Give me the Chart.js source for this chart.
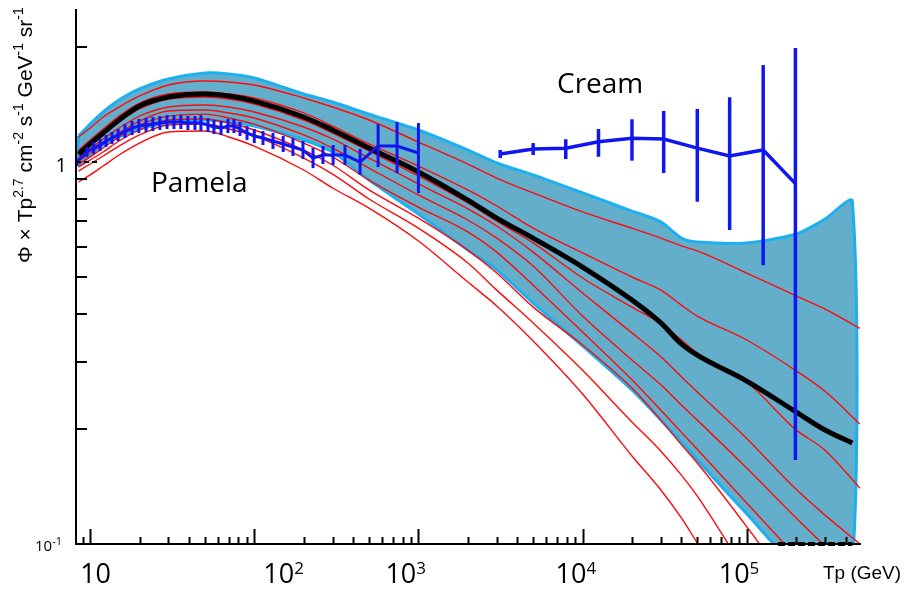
<!doctype html>
<html lang="en">
<head>
<meta charset="utf-8">
<title>Proton flux x Tp^2.7</title>
<style>
  html, body { margin: 0; padding: 0; background: #fff; }
  #wrap { width: 912px; height: 590px; }
</style>
</head>
<body>
<div id="wrap"><canvas id="flux" width="912" height="590"></canvas></div>
<script src="https://cdn.jsdelivr.net/npm/chart.js"></script>
<script>
// energy grids (GeV)
const modelE = [8.5, 10, 12, 15, 20, 30, 50, 70, 100, 200, 300, 500, 1000, 2000, 3000, 5000, 1e4, 2e4, 3e4, 4e4, 5e4, 1e5, 2e5, 3e5, 4.9e5];
const bandE  = [8.5, 10, 12, 15, 20, 30, 50, 70, 100, 200, 300, 500, 1000, 2000, 3000, 5000, 1e4, 2e4, 3e4, 4e4, 5e4, 1e5, 2e5, 3e5, 4.4e5];

// uncertainty band
const bandUpper = [1.170, 1.257, 1.352, 1.453, 1.553, 1.649, 1.710, 1.700, 1.659, 1.507, 1.436, 1.335, 1.213, 1.075, 0.994, 0.925, 0.830, 0.744, 0.697, 0.632, 0.617, 0.614, 0.648, 0.709, 0.790];
const bandLower = [0.982, 1.043, 1.108, 1.163, 1.220, 1.265, 1.288, 1.273, 1.242, 1.142, 1.062, 0.897, 0.731, 0.588, 0.522, 0.427, 0.330, 0.253, 0.211, 0.185, 0.166, 0.120, 0.088, 0.088, 0.088];

// best fit (thick black)
const bestFit = [1.049, 1.115, 1.191, 1.288, 1.402, 1.480, 1.507, 1.489, 1.444, 1.312, 1.213, 1.088, 0.942, 0.795, 0.713, 0.632, 0.531, 0.435, 0.379, 0.334, 0.312, 0.267, 0.2216, 0.1988, 0.1838];

// model curves (red), one list per curve on modelE
const redCurves = [
  [1.163, 1.227, 1.312, 1.393, 1.489, 1.591, 1.629, 1.620, 1.591, 1.471, 1.393, 1.288, 1.128, 0.988, 0.908, 0.830, 0.740, 0.671, 0.632, 0.603, 0.585, 0.512, 0.446, 0.412, 0.367],
  [1.075, 1.142, 1.220, 1.319, 1.427, 1.507, 1.525, 1.507, 1.471, 1.344, 1.242, 1.115, 0.976, 0.845, 0.767, 0.671, 0.578, 0.500, 0.462, 0.422, 0.395, 0.342, 0.284, 0.251, 0.206],
  [1.049, 1.108, 1.184, 1.273, 1.377, 1.462, 1.480, 1.462, 1.418, 1.288, 1.191, 1.069, 0.919, 0.781, 0.700, 0.614, 0.497, 0.417, 0.377, 0.342, 0.316, 0.2655, 0.199, 0.176, 0.140],
  [1.031, 1.082, 1.149, 1.227, 1.319, 1.393, 1.410, 1.393, 1.352, 1.235, 1.149, 1.024, 0.876, 0.754, 0.680, 0.581, 0.454, 0.357, 0.309, 0.274, 0.250, 0.189, 0.139, 0.119, 0.100],
  [1.006, 1.056, 1.115, 1.191, 1.280, 1.360, 1.368, 1.344, 1.304, 1.177, 1.088, 0.964, 0.820, 0.705, 0.632, 0.534, 0.395, 0.303, 0.261, 0.231, 0.211, 0.158, 0.117, 0.0988, 0.0805],
  [0.988, 1.031, 1.088, 1.163, 1.250, 1.319, 1.335, 1.304, 1.257, 1.121, 1.031, 0.897, 0.762, 0.656, 0.581, 0.476, 0.359, 0.269, 0.224, 0.196, 0.177, 0.128, 0.0925, 0.0758, 0.0596],
  [0.970, 1.012, 1.062, 1.135, 1.213, 1.288, 1.296, 1.265, 1.213, 1.075, 0.982, 0.845, 0.713, 0.588, 0.512, 0.417, 0.332, 0.256, 0.211, 0.182, 0.163, 0.111, 0.0735, 0.0561, 0.0390],
  [0.947, 0.988, 1.037, 1.101, 1.177, 1.250, 1.257, 1.220, 1.170, 1.024, 0.930, 0.800, 0.671, 0.544, 0.462, 0.379, 0.285, 0.2086, 0.175, 0.1515, 0.1335, 0.0839, 0.0528, 0.039, 0.0272],
  [0.886, 0.925, 0.976, 1.043, 1.121, 1.198, 1.205, 1.163, 1.101, 0.953, 0.855, 0.757, 0.621, 0.485, 0.420, 0.340, 0.247, 0.170, 0.1385, 0.117, 0.1006, 0.0632, 0.039, 0.029, 0.021]
];

// Pamela data
const pamelaE = [8.3, 9.55, 10.5, 11.5, 12.5, 13.6, 14.8, 16.3, 18.0, 19.8, 21.9, 24.1, 26.6, 29.4, 32.4, 35.7, 39.4, 43.5, 47.3, 52.2, 56.8, 62.7, 69.1, 75.2, 81.8, 90.3, 100, 113, 130, 150, 172, 198, 228, 262, 302, 357, 441, 568, 741, 1000];
const pamelaFlux = [1.000, 1.062, 1.088, 1.108, 1.135, 1.156, 1.177, 1.205, 1.227, 1.242, 1.250, 1.257, 1.265, 1.273, 1.273, 1.273, 1.265, 1.265, 1.265, 1.250, 1.235, 1.227, 1.242, 1.242, 1.220, 1.191, 1.170, 1.156, 1.135, 1.115, 1.095, 1.075, 1.024, 1.043, 1.043, 1.043, 1.000, 1.101, 1.101, 1.056];
const pamelaHi = [1.024, 1.095, 1.128, 1.149, 1.177, 1.198, 1.220, 1.257, 1.280, 1.296, 1.304, 1.312, 1.319, 1.327, 1.327, 1.327, 1.319, 1.319, 1.327, 1.304, 1.288, 1.280, 1.296, 1.296, 1.273, 1.242, 1.220, 1.205, 1.191, 1.170, 1.156, 1.135, 1.088, 1.101, 1.108, 1.108, 1.082, 1.257, 1.273, 1.265];
const pamelaLo = [0.976, 1.031, 1.049, 1.069, 1.095, 1.115, 1.135, 1.156, 1.177, 1.191, 1.198, 1.205, 1.213, 1.220, 1.220, 1.220, 1.213, 1.213, 1.205, 1.198, 1.184, 1.177, 1.191, 1.191, 1.170, 1.142, 1.121, 1.108, 1.082, 1.062, 1.037, 1.018, 0.964, 0.988, 0.982, 0.982, 0.925, 0.970, 0.936, 0.829];

// Cream data
const creamE = [3150, 5000, 7900, 12500, 20000, 31200, 50000, 78700, 126000, 198000];
const creamFlux = [1.049, 1.082, 1.087, 1.130, 1.154, 1.149, 1.087, 1.037, 1.075, 0.878];
const creamHi = [1.075, 1.121, 1.147, 1.220, 1.294, 1.360, 1.377, 1.477, 1.794, 1.988];
const creamLo = [1.024, 1.043, 1.018, 1.032, 1.008, 0.936, 0.787, 0.664, 0.537, 0.166];

// dashed piece along the floor
const floorE = [1.55e5, 4.4e5];
const floorFlux = [0.1, 0.1];

// axis ticks
const xDecades = [10, 100, 1000, 10000, 100000];
const xDecadeLabels = [['10', ''], ['10', '2'], ['10', '3'], ['10', '4'], ['10', '5']];
const xLabelShift = [-10, 9, -33, -27, -28];
const yTicks = [0.2, 0.3, 0.4, 0.5, 0.6, 0.7, 0.8, 0.9, 2];

const xy = (xs, ys) => xs.map((x, i) => ({x: x, y: ys[i]}));

const bandShape = xy(bandE, bandUpper).concat(xy(bandE, bandLower).reverse());
bandShape.push(bandShape[0]);

const BLUE = '#0f16f0';

const datasets = [];
datasets.push({
  data: bandShape, borderColor: '#1cb0f0', borderWidth: 3,
  backgroundColor: '#63aecb', fill: 'shape', tension: 0.25, order: 5
});
redCurves.forEach(c => datasets.push({
  data: xy(modelE, c), borderColor: '#ff0a0a', borderWidth: 1.4,
  fill: false, cubicInterpolationMode: 'monotone', order: 4
}));
datasets.push({
  data: xy(bandE, bestFit), borderColor: '#000', borderWidth: 5,
  fill: false, cubicInterpolationMode: 'monotone', order: 3
});
datasets.push({
  data: xy(floorE, floorFlux), borderColor: '#000', borderWidth: 4,
  borderDash: [7, 3], fill: false, clip: false, order: 2
});
datasets.push({
  data: xy(pamelaE, pamelaFlux), borderColor: BLUE, borderWidth: 3,
  fill: false, tension: 0, order: 1, errHi: pamelaHi, errLo: pamelaLo, errWidth: 3
});
datasets.push({
  data: xy(creamE, creamFlux), borderColor: BLUE, borderWidth: 3.5,
  fill: false, tension: 0, order: 0, errHi: creamHi, errLo: creamLo, errWidth: 3.5
});

// vertical error bars, mapped through the chart scales
const errorBars = {
  id: 'errorBars',
  afterDatasetsDraw(chart) {
    const {ctx, scales: {x, y}} = chart;
    chart.data.datasets.forEach(ds => {
      if (!ds.errHi) return;
      ctx.save();
      ctx.strokeStyle = ds.borderColor;
      ctx.lineWidth = ds.errWidth;
      ds.data.forEach((p, i) => {
        const px = x.getPixelForValue(p.x);
        ctx.beginPath();
        ctx.moveTo(px, y.getPixelForValue(ds.errHi[i]));
        ctx.lineTo(px, y.getPixelForValue(ds.errLo[i]));
        ctx.stroke();
      });
      ctx.restore();
    });
  }
};

// text with superscripts: parts = [[text, isSup], ...]
function richText(ctx, parts, x, y, big, small, family, rise) {
  let cx = x;
  parts.forEach(([t, sup]) => {
    ctx.font = (sup ? small : big) + 'px ' + family;
    ctx.fillText(t, cx, sup ? y - rise : y);
    cx += ctx.measureText(t).width;
  });
}

// inward ticks, labels and titles
const axisDecor = {
  id: 'axisDecor',
  afterDraw(chart) {
    const {ctx, chartArea: a, scales: {x, y}} = chart;
    ctx.save();
    ctx.strokeStyle = '#000';
    ctx.lineWidth = 2;

    // x ticks: decades long, 2..9 short
    [1].concat(xDecades).forEach(d => {
      for (let m = 1; m < 10; m++) {
        const v = d * m;
        if (v <= x.min || v >= x.max) continue;
        const px = Math.round(x.getPixelForValue(v)) + 0.5;
        const len = m === 1 ? 15 : 7;
        ctx.beginPath();
        ctx.moveTo(px, a.bottom);
        ctx.lineTo(px, a.bottom - len);
        ctx.stroke();
      }
    });

    // y ticks
    yTicks.forEach(v => {
      const py = Math.round(y.getPixelForValue(v));
      ctx.beginPath();
      ctx.moveTo(a.left, py);
      ctx.lineTo(a.left + 11, py);
      ctx.stroke();
    });
    // dashed tick at 1
    const p1 = Math.round(y.getPixelForValue(1));
    ctx.setLineDash([5, 3]);
    ctx.beginPath();
    ctx.moveTo(a.left, p1);
    ctx.lineTo(a.left + 24, p1);
    ctx.stroke();
    ctx.setLineDash([]);

    ctx.fillStyle = '#000';
    ctx.textBaseline = 'alphabetic';
    ctx.textAlign = 'left';

    // x tick labels
    xDecades.forEach((v, i) => {
      const px = x.getPixelForValue(v) + xLabelShift[i];
      richText(ctx, [[xDecadeLabels[i][0], false], [xDecadeLabels[i][1], true]],
        px, a.bottom + 39, 27, 17, '"Open Sans", sans-serif', 9);
    });

    // y tick labels
    ctx.font = '20px "Open Sans", sans-serif';
    ctx.textAlign = 'right';
    ctx.fillText('1', a.left - 9, p1 + 10);
    ctx.textAlign = 'left';
    richText(ctx, [['10', false], ['-1', true]], a.left - 41, a.bottom + 7, 15, 11, '"Open Sans", sans-serif', 6);

    // axis titles
    ctx.font = '19px "Liberation Sans", Arial, sans-serif';
    ctx.fillText('Tp (GeV)', 823, 579);

    ctx.save();
    ctx.translate(32, 263);
    ctx.rotate(-Math.PI / 2);
    richText(ctx, [['\u03A6 \u00D7 Tp', false], ['2.7', true], [' cm', false], ['-2', true],
      [' s', false], ['-1', true], [' GeV', false], ['-1', true], [' sr', false], ['-1', true]],
      0, 0, 21, 14, '"Liberation Sans", Arial, sans-serif', 9);
    ctx.restore();

    // experiment names
    ctx.font = '28px "Open Sans", sans-serif';
    ctx.fillText('Pamela', 151, 192);
    ctx.fillText('Cream', 557, 93);

    ctx.restore();
  }
};

new Chart(document.getElementById('flux'), {
  type: 'line',
  data: { datasets: datasets },
  options: {
    responsive: false,
    animation: false,
    elements: { point: { radius: 0 } },
    layout: { padding: { left: 76, right: 52, top: 10, bottom: 46 } },
    plugins: { legend: { display: false }, tooltip: { enabled: false } },
    scales: {
      x: {
        type: 'logarithmic', min: 8.2, max: 4.9e5,
        grid: { display: false, drawTicks: false }, ticks: { display: false },
        border: { display: true, color: '#000', width: 2, z: 1 }
      },
      y: {
        type: 'logarithmic', min: 0.1, max: 2.5,
        grid: { display: false, drawTicks: false }, ticks: { display: false },
        border: { display: true, color: '#000', width: 2, z: 1 }
      }
    }
  },
  plugins: [errorBars, axisDecor]
});
</script>
</body>
</html>
